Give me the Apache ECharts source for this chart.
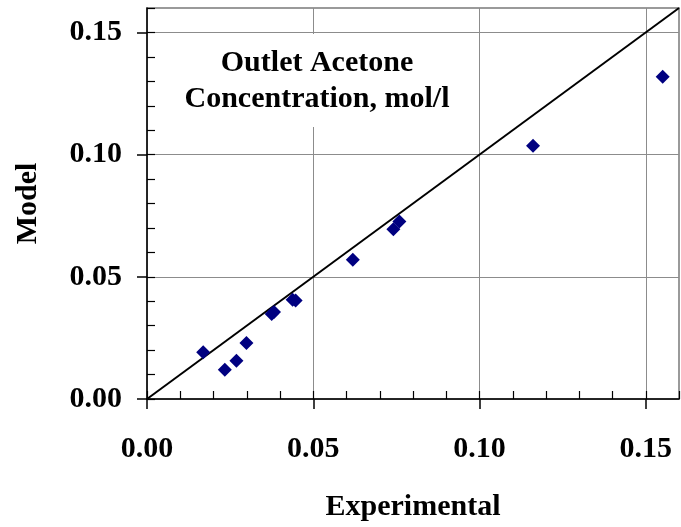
<!DOCTYPE html>
<html>
<head>
<meta charset="utf-8">
<script src="https://cdn.jsdelivr.net/npm/echarts@6/dist/echarts.min.js"></script>
<style>
  html, body { margin: 0; padding: 0; background: #fff; }
  #chart { width: 681px; height: 527px; }
</style>
</head>
<body>
<div id="chart"></div>
<script>
// Measured outlet acetone concentrations (mol/l) vs. model predictions
const experimental = [0.0169, 0.0234, 0.0269, 0.0299, 0.0375, 0.0382, 0.0438, 0.0447, 0.0619, 0.0741, 0.0759, 0.1161, 0.1551];
const model        = [0.0191, 0.0120, 0.0157, 0.0229, 0.0348, 0.0356, 0.0406, 0.0403, 0.0570, 0.0695, 0.0726, 0.1036, 0.1319];

// Parity line y = x across the full axis range
const parity = [0, 0.16];

// Axis ticks
const majorTicks = [0, 0.05, 0.10, 0.15];
const axisMax = 0.16;
const minorStep = 0.01;

const titleLines = ['Outlet Acetone', 'Concentration, mol/l'];
const xName = 'Experimental';
const yName = 'Model';

const FONT = '"Liberation Serif", "Times New Roman", serif';

const points = experimental.map((x, i) => [x, model[i]]);
const parityLine = parity.map(v => [v, v]);

const labelStyle = {
  fontFamily: FONT, fontWeight: 'bold', fontSize: 30, color: '#000'
};

function majorAxis(dim) {
  const isX = dim === 'x';
  return {
    type: 'value',
    min: 0,
    max: axisMax,
    interval: 0.05,
    position: isX ? 'bottom' : 'left',
    axisLine: { show: true, lineStyle: { color: '#000', width: 1.5 } },
    axisTick: {
      show: true, inside: false, length: 10,
      customValues: majorTicks,
      lineStyle: { color: '#000', width: 1.5 }
    },
    axisLabel: Object.assign({
      customValues: majorTicks,
      margin: isX ? 35 : 25,
      formatter: v => v.toFixed(2)
    }, labelStyle),
    splitLine: { show: true, lineStyle: { color: '#8c8c8c', width: 1 } },
    name: isX ? xName : yName,
    nameLocation: 'middle',
    nameGap: isX ? 93 : 104,
    nameTextStyle: { fontFamily: FONT, fontWeight: 'bold', fontSize: 30, color: '#000' }
  };
}

function minorAxis(dim) {
  const isX = dim === 'x';
  return {
    type: 'value',
    min: 0,
    max: axisMax,
    interval: minorStep,
    position: isX ? 'bottom' : 'left',
    axisLine: { show: false },
    axisTick: { show: true, inside: true, length: 8, lineStyle: { color: '#000', width: 1.2 } },
    axisLabel: { show: false },
    splitLine: { show: false }
  };
}

const chart = echarts.init(document.getElementById('chart'), null, { renderer: 'canvas' });

chart.setOption({
  animation: false,
  backgroundColor: '#fff',
  grid: {
    left: 147, top: 8, width: 532, height: 396,
    show: true, borderColor: '#7a7a7a', borderWidth: 1.5, backgroundColor: 'transparent'
  },
  xAxis: [majorAxis('x'), minorAxis('x')],
  yAxis: [majorAxis('y'), minorAxis('y')],
  graphic: [
    {
      type: 'rect',
      z: 10,
      shape: { x: 162, y: 34, width: 310, height: 93 },
      style: { fill: '#fff' }
    },
    {
      type: 'text',
      z: 11,
      x: 317,
      y: 81,
      style: {
        text: titleLines.join('\n'),
        fontFamily: FONT, fontWeight: 'bold', fontSize: 30,
        lineHeight: 36,
        fill: '#000',
        align: 'center',
        verticalAlign: 'middle'
      }
    }
  ],
  series: [
    {
      type: 'line',
      xAxisIndex: 0, yAxisIndex: 0,
      data: parityLine,
      showSymbol: false,
      silent: true,
      lineStyle: { color: '#000', width: 2 },
      z: 3
    },
    {
      type: 'scatter',
      xAxisIndex: 0, yAxisIndex: 0,
      data: points,
      symbol: 'diamond',
      symbolSize: 14,
      itemStyle: { color: '#000080', opacity: 1 },
      z: 4
    }
  ]
});
</script>
</body>
</html>
